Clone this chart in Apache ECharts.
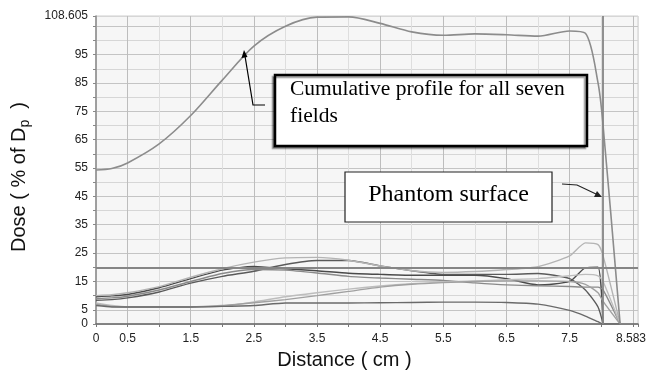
<!DOCTYPE html>
<html>
<head>
<meta charset="utf-8">
<script src="https://cdn.jsdelivr.net/npm/echarts@6/dist/echarts.min.js"></script>
<style>
  html, body { margin: 0; padding: 0; background: #fff; }
  #chart { width: 647px; height: 371px; }
</style>
</head>
<body>
<div id="chart"></div>
<script>
// distance (cm) sample points shared by all profiles
const distance = [0, 0.25, 0.5, 1, 1.5, 2, 2.5, 3, 3.5, 4, 4.5, 5, 5.5, 6, 6.5, 7, 7.5, 7.75, 7.95, 8.03, 8.3];

// cumulative profile for all seven fields
const cumulative = [54.3, 54.8, 56.8, 63.5, 73.5, 86, 98, 105, 108.2, 108.3, 106, 103, 101.8, 102.3, 102, 101.5, 103.3, 102.5, 85, 70, 0];

// individual field profiles (null = not drawn there)
const field1 = [9.6, 9.9, 10.4, 12.8, 16, 19, 20.3, 19.5, 18.8, 17.9, 17.5, 17.2, 17.2, 17.2, 16, 13.8, 15, 19.8, 20, 0, null];
const field2 = [8.4, 8.6, 9.2, 11.3, 14.4, 16.8, 18.6, 21, 22.4, 22.4, 20.5, 18.8, 17.5, 17.5, 17.5, 17.8, 16, 12, 6, 0, null];
const field3 = [10, 10.3, 11, 13.2, 16.5, 19.5, 21.8, 23.3, 23.5, 22.5, 20.5, 18.8, 18.2, 18.5, 19.2, 20.2, 24, 28.6, 28, 24, 0];
const field4 = [9, 9.2, 9.8, 12, 15, 17.8, 19.2, 19, 18, 16.8, 16.2, 15.8, 15.4, 14.5, 13.8, 13.5, 13.2, 13, 13, 12, 0];
const field5 = [7.4, 6.5, 6, 6, 6, 6.3, 7.8, 9.6, 11, 12.3, 13.4, 14.2, 14.8, 15.2, 15.6, 16, 17, 17.5, 17, 15, 0];
const field6 = [7, 6.2, 6, 6, 6, 6.5, 7.5, 8.6, 10, 11.5, 13, 14, 14.6, 15, 15.2, 15.2, 15, 14, 11, 8, 0];
const field7 = [6.5, 6, 6, 6, 6, 6.2, 6.5, 7.4, 7.4, 7.4, 7.5, 7.6, 7.7, 7.7, 7.6, 7, 4.8, 2.8, 0.8, 0, 0];

const fieldColors = ['#4a4a4a', '#5a5a5a', '#b4b4b4', '#8a8a8a', '#bdbdbd', '#a0a0a0', '#6a6a6a'];

// tick labels
const xTickLabels = [0, 0.5, 1.5, 2.5, 3.5, 4.5, 5.5, 6.5, 7.5, 8.583];
const yTickLabels = [0, 5, 15, 25, 35, 45, 55, 65, 75, 85, 95, 108.605];

// reference lines
const surfaceX = 8.03;
const refDose = 20;

const xMax = 8.583;
const yMax = 108.605;

function pairs(ys) {
  return distance.map((x, i) => [x, ys[i]]);
}
function hasLabel(list, v) {
  return list.some(t => Math.abs(t - v) < 1e-6);
}

const chartDom = document.getElementById('chart');
const myChart = echarts.init(chartDom, null, { renderer: 'canvas' });

const fields = [field1, field2, field3, field4, field5, field6, field7];
const fieldSeries = fields.map((f, i) => ({
  type: 'line',
  data: pairs(f),
  showSymbol: false,
  silent: true,
  smooth: 0.2,
  z: 3,
  lineStyle: { color: fieldColors[i], width: 1.4 }
}));

const option = {
  backgroundColor: '#fff',
  animation: false,
  grid: {
    left: 96, right: 9, top: 16, bottom: 47,
    show: true, backgroundColor: '#f6f6f6', borderColor: '#cfcfcf', borderWidth: 1,
    outerBoundsMode: 'none'
  },
  xAxis: {
    type: 'value', min: 0, max: xMax, interval: 0.5,
    name: 'Distance ( cm )', nameLocation: 'middle', nameGap: 26,
    nameTextStyle: { fontFamily: 'Liberation Sans, Arial', fontSize: 20, color: '#111', padding: [0, 45, 0, 0] },
    axisLine: { show: true, lineStyle: { color: '#666', width: 1.5 } },
    axisTick: { show: true, length: 3, lineStyle: { color: '#777' } },
    axisLabel: {
      margin: 9, fontFamily: 'Liberation Sans, Arial', fontSize: 12, color: '#222',
      showMinLabel: true, showMaxLabel: true, hideOverlap: false,
      formatter: v => {
        if (!hasLabel(xTickLabels, v)) return '';
        if (Math.abs(v - xMax) < 1e-6) return '{m|8.583}';
        return String(v);
      },
      rich: { m: { fontFamily: 'Liberation Sans, Arial', fontSize: 12, color: '#222', padding: [0, 14, 0, 0] } }
    },
    splitLine: { show: true, lineStyle: { color: ['#dedede', '#bdbdbd'], width: 1 } }
  },
  yAxis: {
    type: 'value', min: 0, max: yMax, interval: 5,
    name: '{a|Dose ( % of D}{s|p}{a|  )}', nameLocation: 'middle', nameGap: 64, nameRotate: 90,
    nameTextStyle: {
      padding: [0, 14, 0, 0],
      rich: {
        a: { fontFamily: 'Liberation Sans, Arial', fontSize: 20, color: '#111', lineHeight: 26, verticalAlign: 'middle' },
        s: { fontFamily: 'Liberation Sans, Arial', fontSize: 14, color: '#111', lineHeight: 26, verticalAlign: 'bottom' }
      }
    },
    axisLine: { show: true, lineStyle: { color: '#888', width: 1.5 } },
    axisTick: { show: true, length: 3, lineStyle: { color: '#888' } },
    axisLabel: {
      margin: 8, fontFamily: 'Liberation Sans, Arial', fontSize: 12, color: '#222',
      showMinLabel: true, showMaxLabel: true, hideOverlap: false,
      formatter: v => hasLabel(yTickLabels, v) ? String(v) : ''
    },
    splitLine: { show: true, lineStyle: { color: ['#d6d6d6', '#c4c4c4'], width: 1 } }
  },
  series: [
    ...fieldSeries,
    {
      type: 'line',
      data: pairs(cumulative),
      showSymbol: false,
      silent: true,
      smooth: 0.3,
      z: 4,
      lineStyle: { color: '#8c8c8c', width: 1.6 },
      markLine: {
        silent: true, symbol: 'none', label: { show: false },
        lineStyle: { color: '#858585', width: 1.8, type: 'solid' },
        data: [{ xAxis: surfaceX }, { yAxis: refDose }]
      }
    }
  ],
  graphic: [
    // cumulative profile callout
    { type: 'rect', shape: { x: 275, y: 75, width: 312, height: 71 }, z: 100,
      style: { fill: '#fff', stroke: '#000', lineWidth: 2.5, shadowColor: 'rgba(0,0,0,0.35)', shadowOffsetX: -2, shadowOffsetY: 2, shadowBlur: 1 } },
    { type: 'text', x: 290, y: 100, z: 101,
      style: { text: 'Cumulative profile for all seven', font: '21.5px "Liberation Serif", "Times New Roman", serif', fill: '#000', textVerticalAlign: 'bottom', verticalAlign: 'bottom' } },
    { type: 'text', x: 290, y: 127, z: 101,
      style: { text: 'fields', font: '21.5px "Liberation Serif", "Times New Roman", serif', fill: '#000', textVerticalAlign: 'bottom', verticalAlign: 'bottom' } },
    { type: 'polyline', z: 99, shape: { points: [[265, 105], [253, 105], [245, 56]] }, style: { stroke: '#000', lineWidth: 1.2, fill: null } },
    { type: 'polygon', z: 99, shape: { points: [[244, 50], [241.5, 58], [247.5, 57]] }, style: { fill: '#000' } },

    // phantom surface callout
    { type: 'rect', shape: { x: 345, y: 172, width: 207, height: 50 }, z: 100,
      style: { fill: '#fff', stroke: '#222', lineWidth: 1.2 } },
    { type: 'text', x: 448.5, y: 207, z: 101,
      style: { text: 'Phantom surface', font: '24px "Liberation Serif", "Times New Roman", serif', fill: '#000', align: 'center', textAlign: 'center', verticalAlign: 'alphabetic', textVerticalAlign: 'bottom' } },
    { type: 'polyline', z: 99, shape: { points: [[562, 184], [577, 185], [596, 194]] }, style: { stroke: '#222', lineWidth: 1.2, fill: null } },
    { type: 'polygon', z: 99, shape: { points: [[602, 197], [594, 197], [597, 191]] }, style: { fill: '#222' } }
  ]
};
myChart.setOption(option);
new ResizeObserver(() => myChart.resize()).observe(chartDom);
</script>
</body>
</html>
